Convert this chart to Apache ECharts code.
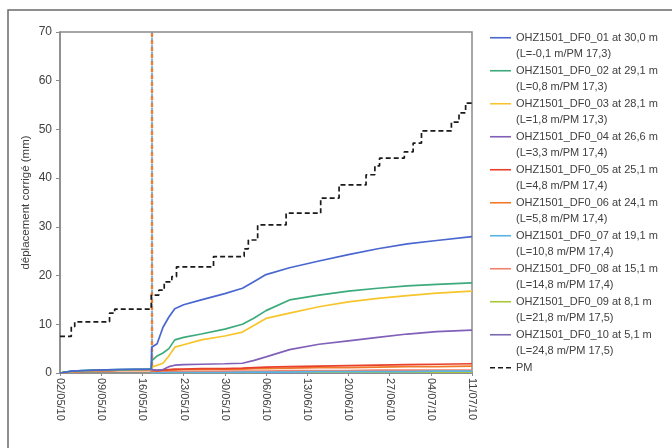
<!DOCTYPE html>
<html>
<head>
<meta charset="utf-8">
<script src="https://cdn.jsdelivr.net/npm/echarts@6/dist/echarts.min.js"></script>
<style>html,body{margin:0;padding:0;background:#fff}#c{width:672px;height:448px}</style>
</head>
<body>
<div id="c"></div>
<script>
// ---- data ----
var startDate = '2010-05-02 00:00';
var tickDates = ['02/05/10','09/05/10','16/05/10','23/05/10','30/05/10','06/06/10','13/06/10','20/06/10','27/06/10','04/07/10','11/07/10'];
var gaugeDates = ['2010-05-02 00:00','2010-05-04 00:00','2010-05-08 00:00','2010-05-12 00:00','2010-05-17 12:00','2010-05-17 14:00','2010-05-18 12:00','2010-05-19 12:00','2010-05-20 12:00','2010-05-21 12:00','2010-05-23 00:00','2010-05-26 00:00','2010-05-30 00:00','2010-06-02 00:00','2010-06-04 00:00','2010-06-06 00:00','2010-06-10 00:00','2010-06-15 00:00','2010-06-20 00:00','2010-06-25 00:00','2010-06-30 00:00','2010-07-05 00:00','2010-07-11 00:00'];
var names = [
  'OHZ1501_DF0_01 at 30,0 m\n(L=-0,1 m/PM 17,3)',
  'OHZ1501_DF0_02 at 29,1 m\n(L=0,8 m/PM 17,3)',
  'OHZ1501_DF0_03 at 28,1 m\n(L=1,8 m/PM 17,3)',
  'OHZ1501_DF0_04 at 26,6 m\n(L=3,3 m/PM 17,4)',
  'OHZ1501_DF0_05 at 25,1 m\n(L=4,8 m/PM 17,4)',
  'OHZ1501_DF0_06 at 24,1 m\n(L=5,8 m/PM 17,4)',
  'OHZ1501_DF0_07 at 19,1 m\n(L=10,8 m/PM 17,4)',
  'OHZ1501_DF0_08 at 15,1 m\n(L=14,8 m/PM 17,4)',
  'OHZ1501_DF0_09 at 8,1 m\n(L=21,8 m/PM 17,5)',
  'OHZ1501_DF0_10 at 5,1 m\n(L=24,8 m/PM 17,5)'
];
var df01 = [0,0.4,0.6,0.7,0.8,5.3,6.0,9.4,11.5,13.2,14.0,15.0,16.3,17.4,18.8,20.2,21.6,23.0,24.3,25.5,26.5,27.2,28.0];
var df02 = [0,0.4,0.6,0.7,0.8,2.5,3.5,4.1,5.0,6.8,7.3,8.0,9.0,10.0,11.3,12.8,15.0,16.0,16.8,17.4,17.9,18.2,18.5];
var df03 = [0,0.3,0.5,0.6,0.7,1.2,1.6,2.0,3.5,5.3,5.8,6.8,7.6,8.4,9.8,11.2,12.3,13.6,14.6,15.3,15.9,16.4,16.8];
var df04 = [0,0.3,0.5,0.6,0.7,0.5,0.6,0.7,1.3,1.6,1.7,1.8,1.9,2.0,2.6,3.3,4.8,5.9,6.6,7.3,8.0,8.5,8.8];
var df05 = [0,0.3,0.5,0.6,0.6,0.3,0.5,0.6,0.7,0.8,0.8,0.9,0.9,1.0,1.1,1.2,1.3,1.4,1.5,1.6,1.7,1.8,1.9];
var df06 = [0,0.3,0.4,0.5,0.5,0.2,0.4,0.5,0.6,0.6,0.7,0.7,0.8,0.8,0.9,0.9,1.0,1.1,1.1,1.2,1.3,1.3,1.4];
var df07 = [0,0.4,0.6,0.7,0.8,0.0,0.0,0.1,0.1,0.1,0.1,0.1,0.1,0.2,0.2,0.2,0.2,0.3,0.3,0.3,0.3,0.4,0.4];
var df08 = [0,0.3,0.5,0.6,0.6,0.1,0.2,0.2,0.3,0.3,0.3,0.3,0.4,0.4,0.4,0.4,0.5,0.5,0.5,0.6,0.6,0.6,0.6];
var df09 = [0,0.3,0.5,0.6,0.7,0.0,0.1,0.1,0.1,0.1,0.1,0.1,0.1,0.1,0.1,0.2,0.2,0.2,0.2,0.2,0.2,0.2,0.2];
var df10 = [0,0.3,0.5,0.6,0.7,0.0,0.0,0.0,0.1,0.1,0.1,0.1,0.1,0.1,0.1,0.1,0.1,0.1,0.1,0.1,0.1,0.1,0.1];
var pmDates = ['2010-05-02 00:00','2010-05-03 22:00','2010-05-04 12:00','2010-05-10 10:00','2010-05-11 07:00','2010-05-17 12:00','2010-05-18 19:00','2010-05-19 17:00','2010-05-21 00:00','2010-05-21 19:00','2010-05-28 02:00','2010-06-02 07:00','2010-06-03 00:00','2010-06-04 14:00','2010-06-09 10:00','2010-06-15 07:00','2010-06-18 10:00','2010-06-23 00:00','2010-06-24 12:00','2010-06-25 07:00','2010-06-29 12:00','2010-07-01 00:00','2010-07-02 10:00','2010-07-07 12:00','2010-07-08 19:00','2010-07-09 22:00','2010-07-11 00:00'];
var pmValues = [7.5,9.5,10.5,12.3,13.1,16.0,17.0,18.7,19.8,21.8,23.9,25.5,27.3,30.4,32.8,35.9,38.6,40.7,42.5,44.1,45.4,47.2,49.7,51.5,53.4,55.4,55.5];
var markerDate = '2010-05-17 13:00';

// ---- helpers ----
function toMs(s){var p=s.split(/[- :]/).map(Number);return Date.UTC(p[0],p[1]-1,p[2],p[3]||0,p[4]||0);}
var t0 = toMs(startDate);
function toDay(s){return (toMs(s)-t0)/86400000;}
function pairs(dates, vals){return vals.map(function(v,i){return [toDay(dates[i]), v];});}

var colors = ['#4a67d0','#3daa7c','#f7c52b','#8060b8','#e8402a','#f07a2a','#58b4e2','#f2806e','#a8c83a','#7c68b0'];
var gauges = [df01,df02,df03,df04,df05,df06,df07,df08,df09,df10];
var series = gauges.map(function(arr,i){
  return {name:names[i], type:'line', data:pairs(gaugeDates, arr), showSymbol:false, symbol:'none',
    lineStyle:{width:1.7, color:colors[i]}, itemStyle:{color:colors[i]}, z: 3 + (10-i)};
});
// vertical marker line
series[5].markLine = {silent:true, symbol:'none', label:{show:false},
  lineStyle:{color:'#e8803a', type:[4,3], width:2.4}, data:[{xAxis:toDay(markerDate)}]};
series[6].markLine = {silent:true, symbol:'none', label:{show:false},
  lineStyle:{color:'#6a9ec8', type:[3,4], dashOffset:3.5, width:1.6}, data:[{xAxis:toDay(markerDate)}]};
series.push({name:'PM', type:'line', step:'end', data:pairs(pmDates, pmValues), showSymbol:false, symbol:'none',
  lineStyle:{width:1.7, color:'#1a1a1a', type:[5,3]}, itemStyle:{color:'#1a1a1a'}, z:20});

var solidIcon = 'path://M0,0 L21,0 L21,1.6 L0,1.6 Z';
var dashIcon = 'path://M0,0 L5,0 L5,1.6 L0,1.6 Z M8,0 L13,0 L13,1.6 L8,1.6 Z M16,0 L21,0 L21,1.6 L16,1.6 Z';
var legendData = names.map(function(n){return {name:n, icon:solidIcon};});
legendData.push({name:'PM', icon:dashIcon});

var chart = echarts.init(document.getElementById('c'), null, {renderer:'canvas'});
chart.setOption({
  animation:false,
  backgroundColor:'#ffffff',
  graphic:[{type:'rect', shape:{x:8, y:10, width:720, height:500}, style:{fill:'none', stroke:'#6a6a6a', lineWidth:1.5}, silent:true}],
  grid:{left:60, right:200, top:32, bottom:75, show:true, borderColor:'#8a8a8a', borderWidth:1.5, backgroundColor:'transparent'},
  legend:{orient:'vertical', left:490, top:13, padding:0, itemGap:-16.5, itemWidth:21, itemHeight:1.6,
    data:legendData, selectedMode:false,
    formatter:function(n){return '\n'+n+(n==='PM'?'\n':'');},
    textStyle:{fontFamily:'Liberation Sans', fontSize:11, color:'#404040', lineHeight:16.5}},
  xAxis:{type:'value', min:0, max:70, interval:7,
    axisLine:{show:true, lineStyle:{color:'#8a8a8a', width:1.5}},
    axisTick:{show:true, length:3, lineStyle:{color:'#8a8a8a'}},
    splitLine:{show:false},
    axisLabel:{rotate:-90, fontFamily:'Liberation Sans', fontSize:11, color:'#404040', margin:5,
      formatter:function(v){return tickDates[Math.round(v/7)];}}},
  yAxis:{type:'value', min:0, max:70, interval:10,
    name:'déplacement corrigé (mm)', nameLocation:'middle', nameGap:28, nameRotate:90, nameMoveOverlap:false,
    nameTextStyle:{fontFamily:'Liberation Sans', fontSize:11.5, color:'#404040'},
    axisLine:{show:true, lineStyle:{color:'#8a8a8a', width:1.5}},
    axisTick:{show:true, length:4, lineStyle:{color:'#8a8a8a'}},
    splitLine:{show:false},
    axisLabel:{fontFamily:'Liberation Sans', fontSize:12, color:'#404040', margin:8}},
  series:series
});
</script>
</body>
</html>
